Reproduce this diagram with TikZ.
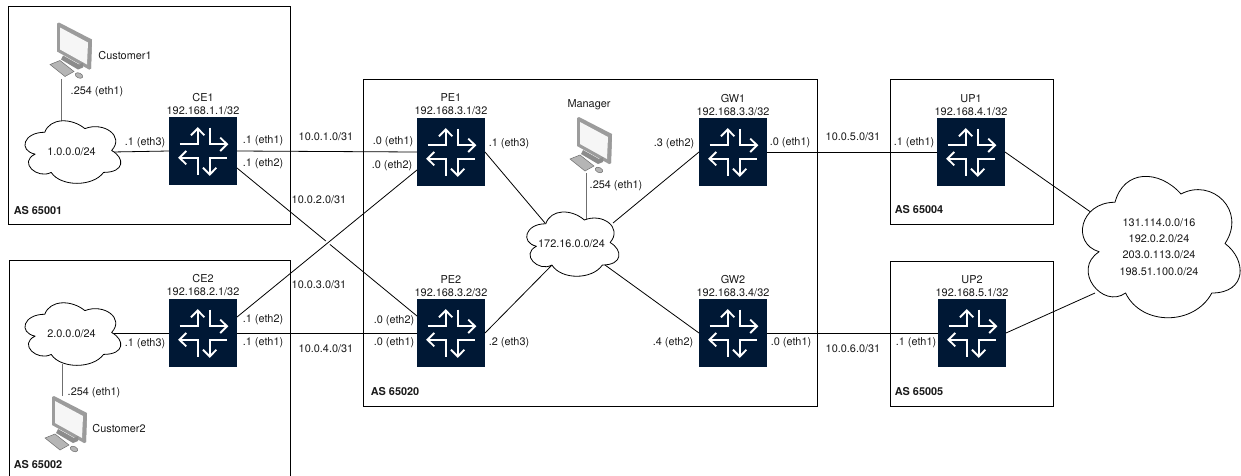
\documentclass[tikz,border=0pt]{standalone}
\usepackage{fontspec}
\setmainfont{TeX Gyre Heros}
\usetikzlibrary{calc}
\definecolor{routerblue}{HTML}{001835}
\definecolor{ink}{HTML}{1a1a1a}
\definecolor{framegrey}{HTML}{9c9c9c}
\definecolor{framedark}{HTML}{6f6f6f}
\definecolor{screenlite}{HTML}{f6f6f6}
\definecolor{keygrey}{HTML}{b5b5b5}
\newcommand{\routerglyph}{%
  \begin{scope}[shift={(path picture bounding box.center)},white,line width=1.9pt]
    \draw (-23.5,-6.7) -- (-5.3,-6.7) -- (-5.3,-22.5);
    \draw (-12,-15.7) -- (-5.3,-22.5) -- (1.4,-15.7);
    \draw (6.7,-23.5) -- (6.7,-6.7) -- (24,-6.7);
    \draw (17.2,-13.4) -- (24,-6.7) -- (17.2,0);
    \draw (-5.3,23.5) -- (-5.3,6.7) -- (-23.5,6.7);
    \draw (-16.7,0) -- (-23.5,6.7) -- (-16.7,13.4);
    \draw (24,6.7) -- (6.7,6.7) -- (6.7,23.5);
    \draw (0,16.7) -- (6.7,23.5) -- (13.4,16.7);
  \end{scope}}
\newcommand{\netcloud}[6]{% name, x, y, w, h, text
  \begin{scope}[shift={(#2,#3)},x=#4pt,y=-#5pt]
    \draw[cloudline] (.25,.25) .. controls (.05,.25) and (0,.5) .. (.16,.55)
      .. controls (0,.66) and (.18,.9) .. (.31,.8)
      .. controls (.4,1) and (.7,1) .. (.8,.8)
      .. controls (1,.8) and (1,.6) .. (.875,.5)
      .. controls (1,.3) and (.8,.1) .. (.625,.2)
      .. controls (.5,.05) and (.3,.05) .. (.25,.25) -- cycle;
    \node[lbl,align=center] (#1) at (.5,.52) {#6};
  \end{scope}}
\tikzset{
  x=1pt,y=-1pt,
  lbl/.style={inner sep=0pt,outer sep=0pt,text=ink,font=\fontsize{10.9}{13}\selectfont},
  asname/.style={lbl,font=\fontsize{10.9}{13}\selectfont\bfseries},
  title/.style={lbl,align=center},
  asbox/.style={draw=black,line width=1pt},
  wire/.style={draw=black,line width=.8pt},
  stubwire/.style={draw=framedark,line width=1pt},
  cloudline/.style={draw=black,line width=.8pt,fill=white,line join=round},
  router/.style={rectangle,fill=routerblue,draw=none,minimum width=68pt,minimum height=68pt,
    inner sep=0pt,outer sep=0pt,path picture={\routerglyph}},
  computer/.pic={
    \fill[framegrey] (0,0) -- (2,-1) -- (35,16) -- (34,45) -- (32,46) -- (0,28) -- cycle;
    \fill[framedark!70] (33,18) -- (35,16) -- (34,45) -- (32,46) -- cycle;
    \fill[screenlite] (3,4) -- (31,19) -- (30,41) -- (3,26) -- cycle;
    \fill[framedark!80] (6,32) -- (22,41) -- (26,39) -- (26,44) -- (21,46) -- (4,36) -- cycle;
    \fill[keygrey,draw=framedark,line width=.5pt] (-7,41) -- (3,37) -- (17,48) -- (8,53) -- cycle;
    \fill[keygrey,draw=framedark,line width=.5pt,rotate around={-25:(22,52)}] (22,52) ellipse (4 and 2.5);
  }
}
\begin{document}
\begin{tikzpicture}
\useasboundingbox (0,0) rectangle (1241,475);
% autonomous system frames
\draw[asbox] (8.5,6) rectangle (290,224);
\draw[asbox] (9,260.5) rectangle (290,480);
\draw[asbox] (363,79) rectangle (817,406);
\draw[asbox] (890,79) rectangle (1053,224);
\draw[asbox] (890,261) rectangle (1053,406);
% routers
\node[router] (CE1) at (203,151) {};
\node[router] (CE2) at (203,333) {};
\node[router] (PE1) at (451,152) {};
\node[router] (PE2) at (451,333) {};
\node[router] (GW1) at (733,152) {};
\node[router] (GW2) at (733,333) {};
\node[router] (UP1) at (971,152) {};
\node[router] (UP2) at (972,333) {};
\node[title] (tCE1) at (203,104.5) {CE1\\192.168.1.1/32};
\node[title] (tCE2) at (203,285.5) {CE2\\192.168.2.1/32};
\node[title] (tPE1) at (451,104.5) {PE1\\192.168.3.1/32};
\node[title] (tPE2) at (451,286.5) {PE2\\192.168.3.2/32};
\node[title] (tGW1) at (733,105.5) {GW1\\192.168.3.3/32};
\node[title] (tGW2) at (733,286.5) {GW2\\192.168.3.4/32};
\node[title] (tUP1) at (971,105.5) {UP1\\192.168.4.1/32};
\node[title] (tUP2) at (972,286.5) {UP2\\192.168.5.1/32};
% attachment points on the clouds
\coordinate (n1e) at (112,152);
\coordinate (n1s) at (61,121);
\coordinate (n2e) at (112,333);
\coordinate (n2s) at (62.5,364);
\coordinate (mnw) at (545,223);
\coordinate (mne) at (613,223);
\coordinate (msw) at (552,265);
\coordinate (mse) at (605,265);
\coordinate (mtop) at (586,220);
\coordinate (inw) at (1092,213);
\coordinate (isw) at (1095,293);
% hosts
\pic at (57,23.5) {computer};
\pic at (577,118) {computer};
\pic at (52,397) {computer};
\coordinate (host1) at (61,79);
\coordinate (host2) at (62.5,396);
\coordinate (host3) at (586,173);
% connectors
\draw[wire] (CE1.east) -- (PE1.west);
\draw[wire] (CE2.east) -- (PE2.west);
\draw[wire] ([yshift=-17pt]CE1.east) -- ([yshift=17pt]PE2.west);
\draw[white,line width=5pt] ($([yshift=16pt]CE2.east)!.49!([yshift=-18pt]PE1.west)$) -- ($([yshift=16pt]CE2.east)!.51!([yshift=-18pt]PE1.west)$);
\draw[wire] ([yshift=16pt]CE2.east) -- ([yshift=-18pt]PE1.west);
\draw[wire] (GW1.east) -- (UP1.west);
\draw[wire] (GW2.east) -- (UP2.west);
\draw[wire] (n1e) -- (CE1.west);
\draw[wire] (n2e) -- (CE2.west);
\draw[wire] (PE1.east) -- (mnw);
\draw[wire] (PE2.east) -- (msw);
\draw[wire] (GW1.west) -- (mne);
\draw[wire] (GW2.west) -- (mse);
\draw[wire] (UP1.east) -- (inw);
\draw[wire] (UP2.east) -- (isw);
\draw[stubwire] (host1) -- (n1s);
\draw[stubwire] (host2) -- (n2s);
\draw[stubwire] (host3) -- (mtop);
% clouds
\netcloud{n1}{18}{114}{107}{73}{1.0.0.0/24}
\netcloud{n2}{18}{296}{107}{73}{2.0.0.0/24}
\netcloud{nm}{520}{205}{103}{75}{172.16.0.0/24}
\netcloud{ni}{1071}{161}{176}{165}{131.114.0.0/16\\[3.4pt]192.0.2.0/24\\[3.4pt]203.0.113.0/24\\[3.4pt]198.51.100.0/24}
% host labels
\node[lbl] (lc1) at (125,56) {Customer1};
\node[lbl] (lc2) at (119,429) {Customer2};
\node[lbl] (lm) at (589,105) {Manager};
\node[lbl] (a1) at (97,92) {.254 (eth1)};
\node[lbl] (a2) at (94,393) {.254 (eth1)};
\node[lbl] (a3) at (616,186) {.254 (eth1)};
% interface labels
\node[lbl] (i01) at (145,143) {.1 (eth3)};
\node[lbl] (i02) at (263,141) {.1 (eth1)};
\node[lbl] (i03) at (263,164) {.1 (eth2)};
\node[lbl] (i04) at (145,344) {.1 (eth3)};
\node[lbl] (i05) at (263,320) {.1 (eth2)};
\node[lbl] (i06) at (263,343) {.1 (eth1)};
\node[lbl] (i07) at (393,142) {.0 (eth1)};
\node[lbl] (i08) at (392,166) {.0 (eth2)};
\node[lbl] (i09) at (394,321) {.0 (eth2)};
\node[lbl] (i10) at (394,343) {.0 (eth1)};
\node[lbl] (i11) at (509,144) {.1 (eth3)};
\node[lbl] (i12) at (509,343) {.2 (eth3)};
\node[lbl] (i13) at (674,144) {.3 (eth2)};
\node[lbl] (i14) at (790,143) {.0 (eth1)};
\node[lbl] (i15) at (914,143) {.1 (eth1)};
\node[lbl] (i16) at (673,343) {.4 (eth2)};
\node[lbl] (i17) at (791,343) {.0 (eth1)};
\node[lbl] (i18) at (916,343) {.1 (eth1)};
% link labels
\node[lbl] (s1) at (326,137) {10.0.1.0/31};
\node[lbl] (s2) at (319,200) {10.0.2.0/31};
\node[lbl] (s3) at (319,285) {10.0.3.0/31};
\node[lbl] (s4) at (326,349) {10.0.4.0/31};
\node[lbl] (s5) at (853,137) {10.0.5.0/31};
\node[lbl] (s6) at (853,349) {10.0.6.0/31};
% AS labels
\node[asname] (as1) at (38,211) {AS 65001};
\node[asname] (as2) at (38,465) {AS 65002};
\node[asname] (as3) at (395,392) {AS 65020};
\node[asname] (as4) at (919,210) {AS 65004};
\node[asname] (as5) at (919,392) {AS 65005};
\end{tikzpicture}
\end{document}
